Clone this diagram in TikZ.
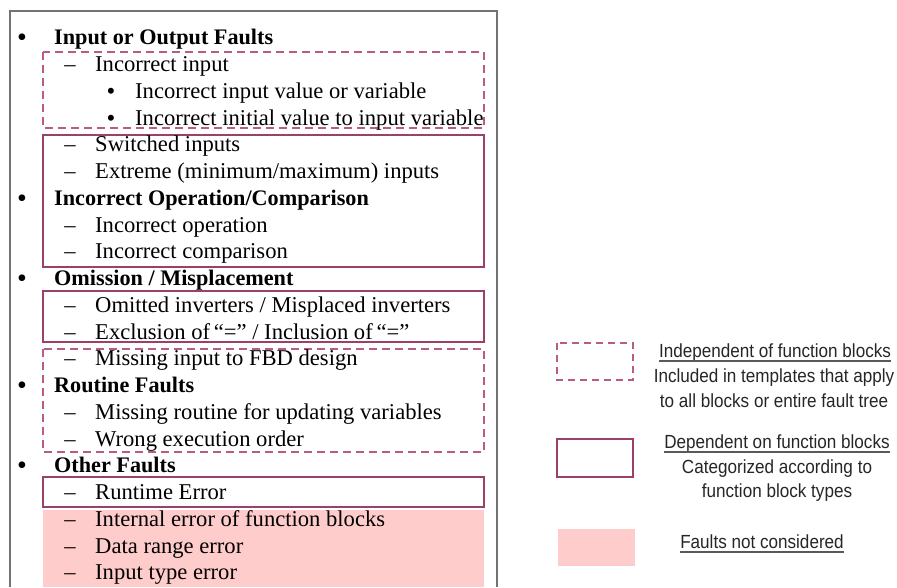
\documentclass[tikz,border=0pt]{standalone}
\usepackage{fontspec}
\setmainfont{Liberation Serif}
\newfontfamily\legfont[FakeStretch=0.9]{Liberation Sans}
\usetikzlibrary{calc}
\definecolor{dashcol}{RGB}{185,90,135}
\definecolor{solidcol}{RGB}{155,65,105}
\definecolor{pinkfill}{RGB}{255,204,204}
\definecolor{framecol}{RGB}{115,115,115}
\begin{document}
\begin{tikzpicture}[x=1pt,y=-1pt,
  txt/.style={anchor=base west, inner sep=0pt, font=\fontsize{22.6}{26}\selectfont},
  head/.style={anchor=base west, inner sep=0pt, font=\fontsize{22.2}{26}\selectfont\bfseries},
  bul/.style={anchor=base, inner sep=0pt, font=\fontsize{22.6}{26}\selectfont},
  hbul/.style={anchor=base, inner sep=0pt, yshift=-2pt, font=\fontsize{28}{30}\selectfont},
  sbul/.style={anchor=base, inner sep=0pt, yshift=-1pt, font=\fontsize{25}{30}\selectfont},
  dbox/.style={draw=dashcol, line width=2pt, dash pattern=on 8pt off 5pt},
  sbox/.style={draw=solidcol, line width=2pt},
  leg/.style={anchor=base, inner sep=0pt, font=\legfont\fontsize{19}{24}\selectfont, text=black!85},
  uline/.style={draw=black!65, line width=1.2pt}]
\useasboundingbox (0,0) rectangle (897,587);
\fill[white] (0,0) rectangle (897,587);
% outer frame
\draw[framecol, line width=1.5pt] (10,587) -- (10,11) -- (497,11) -- (497,587);
% pink area
\fill[pinkfill] (43,510) rectangle (484,587);
% boxes
\draw[dbox] (43,52) rectangle (484,128);
\draw[sbox] (43,135) rectangle (484,267);
\draw[sbox] (43,291) rectangle (484,342);
\draw[dbox] (43,349) rectangle (484,452);
\draw[sbox] (43,477) rectangle (484,507);
% text
\node[hbul] (b1) at (22,44) {•};
\node[head] (h1) at (54,44) {Input or Output Faults};
\node[bul] (d2) at (70,71.5) {–};
\node[txt] (t2) at (95,71.5) {Incorrect input};
\node[sbul] (s3) at (111,98.25) {•};
\node[txt] (t3) at (135,98.25) {Incorrect input value or variable};
\node[sbul] (s4) at (111,125) {•};
\node[txt] (t4) at (135,125) {Incorrect initial value to input variable};
\node[bul] (d5) at (70,151.75) {–};
\node[txt] (t5) at (95,151.75) {Switched inputs};
\node[bul] (d6) at (70,178.5) {–};
\node[txt] (t6) at (95,178.5) {Extreme (minimum/maximum) inputs};
\node[hbul] (b7) at (22,205.25) {•};
\node[head] (h7) at (54,205.25) {Incorrect Operation/Comparison};
\node[bul] (d8) at (70,232) {–};
\node[txt] (t8) at (95,232) {Incorrect operation};
\node[bul] (d9) at (70,258.75) {–};
\node[txt] (t9) at (95,258.75) {Incorrect comparison};
\node[hbul] (b10) at (22,285.5) {•};
\node[head] (h10) at (54,285.5) {Omission / Misplacement};
\node[bul] (d11) at (70,312.25) {–};
\node[txt] (t11) at (95,312.25) {Omitted inverters / Misplaced inverters};
\node[bul] (d12) at (70,339) {–};
\node[txt] (t12) at (95,339) {Exclusion of\,“=” / Inclusion of\,“=”};
\node[bul] (d13) at (70,365.75) {–};
\node[txt] (t13) at (95,365.75) {Missing input to FBD design};
\node[hbul] (b14) at (22,392.5) {•};
\node[head] (h14) at (54,392.5) {Routine Faults};
\node[bul] (d15) at (70,419.25) {–};
\node[txt] (t15) at (95,419.25) {Missing routine for updating variables};
\node[bul] (d16) at (70,446) {–};
\node[txt] (t16) at (95,446) {Wrong execution order};
\node[hbul] (b17) at (22,472.75) {•};
\node[head] (h17) at (54,472.75) {Other Faults};
\node[bul] (d18) at (70,499.5) {–};
\node[txt] (t18) at (95,499.5) {Runtime Error};
\node[bul] (d19) at (70,526.25) {–};
\node[txt] (t19) at (95,526.25) {Internal error of function blocks};
\node[bul] (d20) at (70,553) {–};
\node[txt] (t20) at (95,553) {Data range error};
\node[bul] (d21) at (70,579.75) {–};
\node[txt] (t21) at (95,579.75) {Input type error};
% legend
\draw[dbox, dash pattern=on 7pt off 5pt] (557,343) rectangle (633,380);
\draw[sbox] (557,439) rectangle (633,477);
\fill[pinkfill] (558,529) rectangle (635,566);
\node[leg] (l1) at (775,357) {Independent of function blocks};
\draw[uline] ($(l1.base west)+(0,4)$) -- ($(l1.base east)+(0,4)$);
\node[leg] (l2) at (774,382) {Included in templates that apply};
\node[leg] (l3) at (774,407) {to all blocks or entire fault tree};
\node[leg] (l4) at (777,448) {Dependent on function blocks};
\draw[uline] ($(l4.base west)+(0,4)$) -- ($(l4.base east)+(0,4)$);
\node[leg] (l5) at (777,473) {Categorized according to};
\node[leg] (l6) at (777,497) {function block types};
\node[leg] (l7) at (762,548) {Faults not considered};
\draw[uline] ($(l7.base west)+(0,4)$) -- ($(l7.base east)+(0,4)$);
\end{tikzpicture}
\end{document}
